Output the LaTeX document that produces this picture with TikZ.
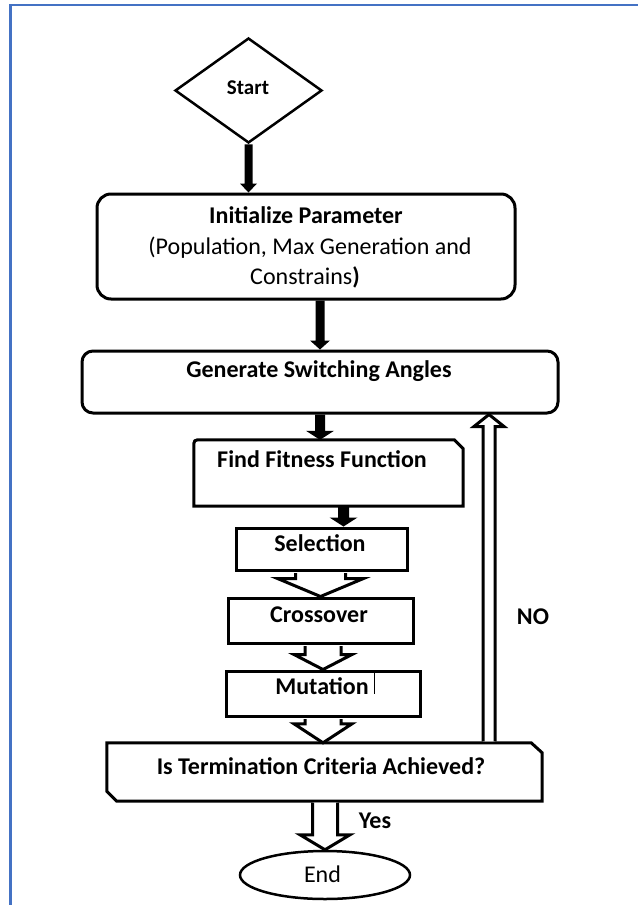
\documentclass[tikz,border=0pt]{standalone}
\usepackage{fontspec}
\setmainfont{Carlito}
\usetikzlibrary{shapes.geometric,calc}
\definecolor{frameblue}{HTML}{4472C4}
\tikzset{
  outline/.style={draw=black, line width=3pt},
  boxnode/.style={rectangle, inner sep=0pt, outline},
  ghost/.style={rectangle, inner sep=0pt},
  bt/.style={anchor=base, inner sep=0pt, font=\fontsize{24}{28}\selectfont\bfseries},
  rt/.style={anchor=base, inner sep=0pt, font=\fontsize{24}{28}\selectfont},
  blockfill/.style={fill=black, draw=none},
  blockhollow/.style={fill=white, draw=black, line width=3pt, line join=miter},
}
\newcommand\SolidDown[5]{\path[blockfill] let \p1=(#1), \p2=(#2) in
  (\x2-#3,\y1) -- (\x2-#3,\y2+#5) -- (\x2-#4,\y2+#5) -- (\p2) -- (\x2+#4,\y2+#5) -- (\x2+#3,\y2+#5) -- (\x2+#3,\y1) -- cycle;}
\newcommand\HollowDown[5]{\path[blockhollow] let \p1=(#1), \p2=(#2) in
  (\x2-#3,\y1-1.5pt) -- (\x2-#3,\y2+#5) -- (\x2-#4,\y2+#5) -- (\p2) -- (\x2+#4,\y2+#5) -- (\x2+#3,\y2+#5) -- (\x2+#3,\y1-1.5pt);}
\newcommand\HollowUp[5]{\path[blockhollow] let \p1=(#1), \p2=(#2) in
  (\x2-#3,\y1+1.5pt) -- (\x2-#3,\y2-#5) -- (\x2-#4,\y2-#5) -- (\p2) -- (\x2+#4,\y2-#5) -- (\x2+#3,\y2-#5) -- (\x2+#3,\y1+1.5pt);}
\begin{document}
\begin{tikzpicture}[x=1pt,y=-1pt]
\useasboundingbox (0,0) rectangle (638,905);
\fill[white] (0,0) rectangle (638,905);
\draw[frameblue, line width=2.5pt] (10.5,905) -- (10.5,5) -- (638,5);

% shapes
\node[draw, line width=2.5pt, diamond, minimum width=147pt, minimum height=105pt, inner sep=0pt] (start) at (248.5,90.5) {};
\node[boxnode, rounded corners=14pt, minimum width=418pt, minimum height=105pt] (init) at (306,246.5) {};
\node[boxnode, rounded corners=11pt, minimum width=476pt, minimum height=62pt] (gen) at (320,382) {};
\node[ghost, minimum width=269pt, minimum height=66pt] (fit) at (328.5,473) {};
\node[boxnode, minimum width=171pt, minimum height=42pt] (sel) at (321.5,549) {};
\node[boxnode, minimum width=185pt, minimum height=45pt] (cro) at (320.5,620.5) {};
\node[boxnode, minimum width=194pt, minimum height=45pt] (mut) at (323,693.5) {};
\node[ghost, minimum width=435pt, minimum height=58pt] (term) at (324.5,772) {};
\node[draw, line width=2.5pt, ellipse, minimum width=170pt, minimum height=48pt, inner sep=0pt] (end) at (325,875) {};
\coordinate (loop) at (489,600);

\draw[outline] (fit.south west) -- ([yshift=-8pt]fit.north west) .. controls (fit.north west) .. ([xshift=8pt]fit.north west)
  -- ([xshift=-9pt]fit.north east) -- ([yshift=-9pt]fit.north east) -- (fit.south east) -- cycle;
\draw[outline, line join=miter] (term.north west) -- ([xshift=-11pt]term.north east) -- ([yshift=-10pt]term.north east)
  -- (term.south east) -- ([xshift=10pt]term.south west) -- ([yshift=10pt]term.south west) -- cycle;

% texts
\node[bt, font=\fontsize{21}{24}\selectfont\bfseries] (starttxt) at (248,94) {Start};
\node[bt] (inittxt1) at (306,223.5) {Initialize Parameter};
\node[rt] (inittxt2) at (310,254) {(Population, Max Generation and};
\node[rt] (inittxt3) at (305,284) {Constrains\textbf{)}};
\node[bt] (gentxt) at (319,377.5) {Generate Switching Angles};
\node[bt] (fittxt) at (322,467.5) {Find Fitness Function};
\node[bt] (seltxt) at (320,551.5) {Selection};
\node[bt] (crotxt) at (319,622.5) {Crossover};
\node[bt] (muttxt) at (322,694.5) {Mutation};
\node[bt] (termtxt) at (321,774.5) {Is Termination Criteria Achieved?};
\node[bt] (yes) at (375,828) {Yes};
\node[rt] (endtxt) at (322.5,882.5) {End};
\node[bt] (no) at (533,624) {NO};
\draw[line width=1pt] (374,672) -- (374,694);

% connectors
\SolidDown{start.south}{start.south |- init.north}{4pt}{8.5pt}{9pt}
\SolidDown{init.south}{gen.north}{4.5pt}{10pt}{9pt}
\SolidDown{gen.south}{gen.south |- fit.north}{5pt}{14pt}{9pt}
\SolidDown{fit.south}{$(sel.north)+(22,0)$}{5.5pt}{14pt}{9pt}
\HollowDown{sel.south}{cro.north}{25pt}{43pt}{18pt}
\HollowDown{cro.south}{mut.north}{18pt}{29pt}{15pt}
\HollowDown{mut.south}{mut.south |- term.north}{18pt}{29pt}{19pt}
\HollowDown{term.south}{end.north}{12.5pt}{25pt}{15pt}
\HollowUp{term.north -| loop}{gen.south -| loop}{6pt}{15pt}{12pt}
\end{tikzpicture}
\end{document}
